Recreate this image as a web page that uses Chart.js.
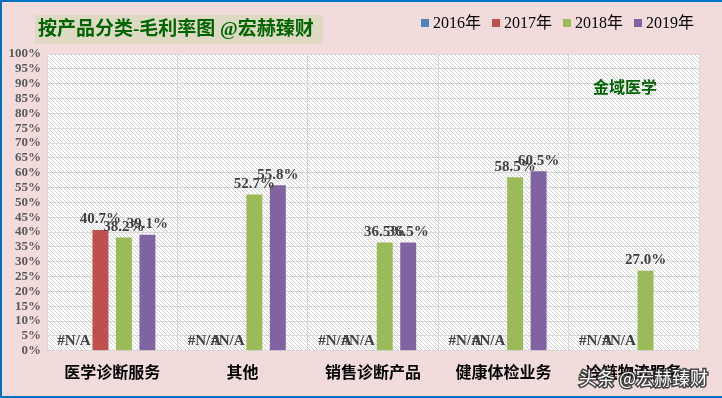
<!DOCTYPE html>
<html>
<head>
<meta charset="utf-8">
<script src="https://cdn.jsdelivr.net/npm/chart.js@4.4.1/dist/chart.umd.min.js"></script>
<style>
  html, body { margin: 0; padding: 0; background: #f2dcdb; }
  #wrap {
    position: relative; width: 722px; height: 398px; box-sizing: border-box;
    border-left: 2px solid #0070c0; border-top: 2px solid #0070c0; border-bottom: 2px solid #0070c0;
  }
  canvas { display: block; }
</style>
</head>
<body>
<div id="wrap"><canvas id="gmChart" width="720" height="394"></canvas></div>
<script>
// categories and yearly gross margin (%); NA = shown as #N/A, null = empty
const NA = '#N/A';
const categories = ['医学诊断服务', '其他', '销售诊断产品', '健康体检业务', '冷链物流服务'];
const years = ['2016年', '2017年', '2018年', '2019年'];
const margin2016 = [NA, NA, NA, NA, NA];
const margin2017 = [40.7, NA, NA, NA, NA];
const margin2018 = [38.2, 52.7, 36.5, 58.5, 27.0];
const margin2019 = [39.1, 55.8, 36.5, 60.5, null];
const yTicks = [0, 5, 10, 15, 20, 25, 30, 35, 40, 45, 50, 55, 60, 65, 70, 75, 80, 85, 90, 95, 100];

const titleText = '按产品分类-毛利率图 @宏赫臻财';
const companyText = '金域医学';
const watermark = '头条 @宏赫臻财';

const colors = ['#4f81bd', '#c0504d', '#9bbb59', '#8064a2'];
const serif = '"Liberation Serif", "Noto Sans CJK SC", serif';

function toNum(v) { return typeof v === 'number' ? v : null; }

function makeHatch() {
  const p = document.createElement('canvas');
  p.width = 4; p.height = 4;
  const c = p.getContext('2d');
  c.fillStyle = '#ffffff';
  c.fillRect(0, 0, 4, 4);
  c.fillStyle = '#d4d4d4';
  for (let i = 0; i < 4; i++) c.fillRect(i, i, 1, 1);
  return p;
}

const backdrop = {
  id: 'backdrop',
  beforeDraw(chart) {
    const ctx = chart.ctx;
    const a = chart.chartArea;
    ctx.save();
    ctx.fillStyle = '#f2dcdb';
    ctx.fillRect(0, 0, chart.width, chart.height);
    ctx.fillStyle = ctx.createPattern(makeHatch(), 'repeat');
    ctx.fillRect(a.left, a.top, a.right - a.left, a.bottom - a.top);
    // title box
    ctx.fillStyle = '#ddd9c3';
    ctx.fillRect(33, 13, 288, 29);
    ctx.fillStyle = '#006400';
    ctx.font = 'bold 19px ' + serif;
    ctx.textBaseline = 'middle';
    ctx.textAlign = 'left';
    ctx.fillText(titleText, 36, 28);

    // legend
    ctx.font = '16px ' + serif;
    let x = 419;
    chart.data.datasets.forEach(ds => {
      ctx.fillStyle = ds.backgroundColor;
      ctx.fillRect(x, 17, 8, 8);
      ctx.fillStyle = '#000000';
      ctx.fillText(ds.label, x + 12, 22);
      x += 12 + ctx.measureText(ds.label).width + 11;
    });
    ctx.restore();
  },
  afterDraw(chart) {
    const ctx = chart.ctx;
    ctx.save();
    ctx.textBaseline = 'middle';
    ctx.fillStyle = '#006400';
    ctx.font = 'bold 16px "Noto Sans CJK SC", sans-serif';
    ctx.fillText(companyText, 591, 85);
    ctx.font = '18px "Noto Sans CJK SC", sans-serif';
    ctx.lineWidth = 3;
    ctx.strokeStyle = 'rgba(40,40,40,0.85)';
    ctx.strokeText(watermark, 577, 376);
    ctx.fillStyle = '#ffffff';
    ctx.fillText(watermark, 577, 376);
    ctx.restore();
  }
};

const valueLabels = {
  id: 'valueLabels',
  afterDatasetsDraw(chart) {
    const ctx = chart.ctx;
    const base = chart.scales.y.getPixelForValue(0);
    ctx.save();
    ctx.font = 'bold 15px ' + serif;
    ctx.fillStyle = '#404040';
    ctx.textAlign = 'center';
    ctx.textBaseline = 'bottom';
    chart.data.datasets.forEach((ds, di) => {
      const meta = chart.getDatasetMeta(di);
      meta.data.forEach((bar, i) => {
        const v = ds.rawValues[i];
        if (v === NA) {
          ctx.fillText(NA, bar.x - 3, base - 2);
        } else if (typeof v === 'number') {
          ctx.fillText(v.toFixed(1) + '%', bar.x, bar.y - 3);
        }
      });
    });
    ctx.restore();
  }
};

const series = [margin2016, margin2017, margin2018, margin2019];

new Chart(document.getElementById('gmChart'), {
  type: 'bar',
  data: {
    labels: categories,
    datasets: series.map((vals, i) => ({
      label: years[i],
      data: vals.map(toNum),
      rawValues: vals,
      backgroundColor: colors[i]
    }))
  },
  options: {
    responsive: false,
    animation: false,
    categoryPercentage: 0.72,
    barPercentage: 0.68,
    layout: { padding: { left: 3, right: 23, top: 52, bottom: 2 } },
    plugins: {
      legend: { display: false },
      title: { display: false },
      tooltip: { enabled: false }
    },
    scales: {
      x: {
        grid: { color: '#d9d9d9', drawTicks: false },
        border: { color: '#d9d9d9' },
        ticks: {
          padding: 12,
          color: '#000000',
          font: { family: '"Noto Sans CJK SC", sans-serif', size: 16, weight: 'bold' }
        }
      },
      y: {
        min: 0,
        max: 100,
        afterBuildTicks(axis) { axis.ticks = yTicks.map(v => ({ value: v })); },
        afterFit(axis) { axis.width = 42; },
        grid: { color: '#d9d9d9', drawTicks: false },
        border: { color: '#d9d9d9' },
        ticks: {
          autoSkip: false,
          padding: 6,
          color: '#595959',
          font: { family: serif, size: 13, weight: 'bold' },
          callback: v => v + '%'
        }
      }
    }
  },
  plugins: [backdrop, valueLabels]
});
</script>
</body>
</html>
